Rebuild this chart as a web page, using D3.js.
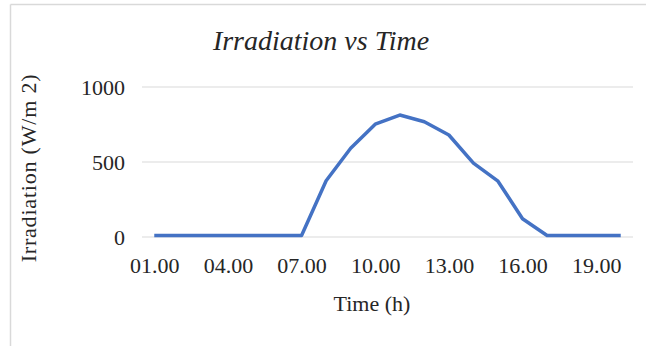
<!DOCTYPE html>
<html><head><meta charset="utf-8">
<script src="https://cdn.jsdelivr.net/npm/d3@7/dist/d3.min.js"></script>
<style>html,body{margin:0;padding:0;background:#fff;}svg{display:block;}</style>
</head><body>
<script>
const categories = ["01.00","02.00","03.00","04.00","05.00","06.00","07.00","08.00","09.00","10.00","11.00","12.00","13.00","14.00","15.00","16.00","17.00","18.00","19.00","20.00"];
const irradiation = [0,0,0,0,0,0,0,365,582,742,803,758,670,482,362,112,0,0,0,0];
const yTicks = [0,500,1000];
const xTickLabels = ["01.00","04.00","07.00","10.00","13.00","16.00","19.00"];
const title = "Irradiation vs Time";
const xTitle = "Time (h)";
const yTitle = "Irradiation (W/m 2)";

const W = 646, H = 346;
const svg = d3.select("body").append("svg").attr("width", W).attr("height", H);
const font = "'Liberation Serif','Times New Roman',serif";

// frame (top and left only visible)
svg.append("line").attr("x1",10.5).attr("x2",W).attr("y1",4.5).attr("y2",4.5).attr("stroke","#d9d9d9").attr("stroke-width",1.5);
svg.append("line").attr("x1",10.5).attr("x2",10.5).attr("y1",4.5).attr("y2",H).attr("stroke","#d9d9d9").attr("stroke-width",1.5);

const plot = {left:142, right:633, top:87, bottom:237};
const x = d3.scalePoint().domain(categories).range([plot.left, plot.right]).padding(0.5);
const y = d3.scaleLinear().domain([0,1000]).range([plot.bottom, plot.top]);

// gridlines
svg.append("g").selectAll("line").data(yTicks).join("line")
  .attr("x1", plot.left).attr("x2", plot.right)
  .attr("y1", d=>y(d)).attr("y2", d=>y(d))
  .attr("stroke","#d9d9d9").attr("stroke-width",1);

// y axis labels
const yAxis = d3.axisLeft(y).tickValues(yTicks).tickSize(0).tickPadding(17).tickFormat(d3.format("d"));
const gy = svg.append("g").attr("transform",`translate(${plot.left},0)`).call(yAxis);
gy.select(".domain").remove();
gy.selectAll("text").attr("font-family",font).attr("font-size",22).attr("fill","#262626");

// x axis labels
const xAxis = d3.axisBottom(x).tickValues(xTickLabels).tickSize(0).tickPadding(20);
const gx = svg.append("g").attr("transform",`translate(0,${plot.bottom})`).call(xAxis);
gx.select(".domain").remove();
gx.selectAll("text").attr("font-family",font).attr("font-size",22).attr("fill","#262626");

// line
const line = d3.line().x((d,i)=>x(categories[i])).y(d=>y(d));
svg.append("path").datum(irradiation).attr("d",line)
  .attr("fill","none").attr("stroke","#4472c4").attr("stroke-width",3.5)
  .attr("stroke-linejoin","round").attr("stroke-linecap","butt")
  .attr("transform","translate(0,-1.5)");

// titles
svg.append("text").attr("x",321).attr("y",50).attr("text-anchor","middle")
  .attr("font-family",font).attr("font-style","italic").attr("font-size",28).attr("fill","#262626").text(title);
svg.append("text").attr("x",372).attr("y",311).attr("text-anchor","middle")
  .attr("font-family",font).attr("font-size",22).attr("fill","#262626").text(xTitle);
svg.append("text").attr("transform","translate(36,168) rotate(-90)").attr("text-anchor","middle")
  .attr("font-family",font).attr("font-size",22).attr("letter-spacing",0.8).attr("fill","#262626").text(yTitle);
</script>
</body></html>
